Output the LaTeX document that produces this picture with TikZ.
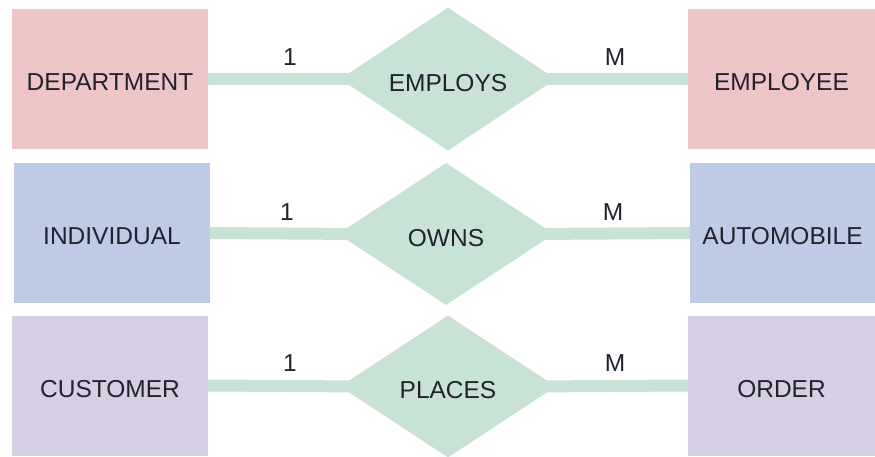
\documentclass[tikz,border=0pt]{standalone}
\usepackage{fontspec}
\setmainfont{Liberation Sans}
\usetikzlibrary{shapes.geometric}
\definecolor{pinkbox}{HTML}{EEC5C7}
\definecolor{bluebox}{HTML}{BECBE5}
\definecolor{purplebox}{HTML}{D6CEE2}
\definecolor{relgreen}{HTML}{C8E2D6}
\definecolor{ink}{HTML}{22222E}
\begin{document}
\begin{tikzpicture}[x=1pt,y=-1pt,
  lbl/.style={text=ink, font=\fontsize{24.5}{28}\selectfont},
  entity/.style={lbl, rectangle, inner sep=0pt, minimum height=140pt, text height=23.5pt, text depth=0pt},
  rel/.style={lbl, diamond, fill=relgreen, inner sep=0pt, minimum width=216pt, minimum height=142pt, text height=24.5pt, text depth=0pt},
  link/.style={draw=relgreen, line width=12pt},
  card/.style={lbl, inner sep=0pt}]
\useasboundingbox (0,0) rectangle (875,456);
% row 1
\node[entity, fill=pinkbox, minimum width=196pt] (dept) at (110,79) {DEPARTMENT};
\node[entity, fill=pinkbox, minimum width=187pt] (emp) at (781.5,79) {EMPLOYEE};
% row 2
\node[entity, fill=bluebox, minimum width=196pt] (ind) at (112,233) {INDIVIDUAL};
\node[entity, fill=bluebox, minimum width=185pt] (auto) at (782.5,233) {AUTOMOBILE};
% row 3
\node[entity, fill=purplebox, minimum width=196pt] (cust) at (110,385.5) {CUSTOMER};
\node[entity, fill=purplebox, minimum width=187pt] (order) at (781.5,385.5) {ORDER};
% relationship diamonds
\node[rel] (employs) at (448,79) {EMPLOYS};
\node[rel] (owns) at (446,234) {OWNS};
\node[rel] (places) at (448,386.5) {PLACES};
% connectors (run into the diamond, same colour)
\draw[link] (dept.east) -- ([xshift=25pt]employs.west);
\draw[link] ([xshift=-25pt]employs.east) -- (emp.west);
\draw[link] (ind.east) -- ([xshift=25pt]owns.west);
\draw[link] ([xshift=-25pt]owns.east) -- (auto.west);
\draw[link] (cust.east) -- ([xshift=25pt]places.west);
\draw[link] ([xshift=-25pt]places.east) -- (order.west);
% cardinalities
\node[card] (c1a) at (290,57) {1};
\node[card] (c1b) at (615,57) {M};
\node[card] (c2a) at (287,212) {1};
\node[card] (c2b) at (613,212) {M};
\node[card] (c3a) at (290,363) {1};
\node[card] (c3b) at (615,363) {M};
\end{tikzpicture}
\end{document}
